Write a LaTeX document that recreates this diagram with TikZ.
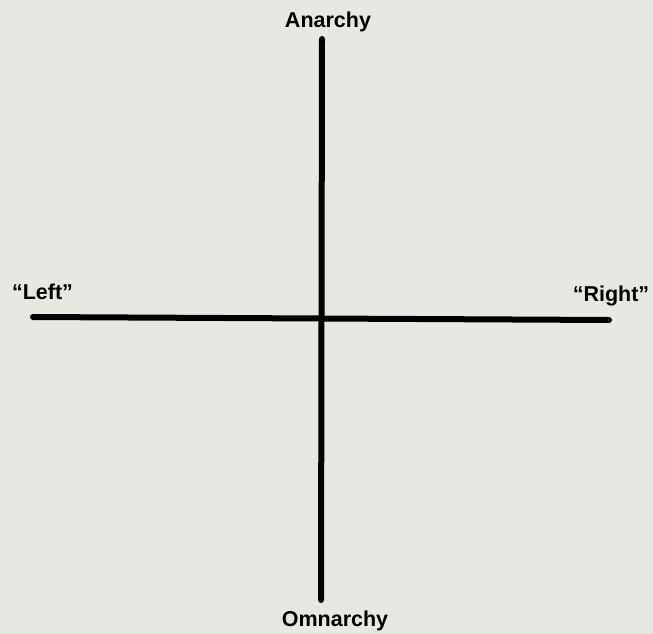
\documentclass[tikz,border=0pt]{standalone}
\usepackage{fontspec}
\setmainfont{Liberation Sans}
\definecolor{paper}{RGB}{233,231,226}
\begin{document}
\begin{tikzpicture}[x=1pt,y=-1pt,
  axis/.style={line width=6pt,line cap=round,black},
  lbl/.style={font=\fontsize{21.5}{21.5}\selectfont\bfseries,inner sep=0pt,text=black}]
\fill[paper] (0,0) rectangle (653,634);
\useasboundingbox (0,0) rectangle (653,634);
\coordinate (T) at (322,39);
\coordinate (B) at (321,600);
\coordinate (L) at (33,317);
\coordinate (R) at (609,320);
\draw[axis] (T) -- (B);
\draw[axis] (L) -- (R);
\node[lbl] (anarchy) at (328,22) {Anarchy};
\node[lbl] (omnarchy) at (335,621) {Omnarchy};
\node[lbl] (left) at (42.5,292) {“Left”};
\node[lbl] (right) at (611,296) {“Right”};
\end{tikzpicture}
\end{document}
